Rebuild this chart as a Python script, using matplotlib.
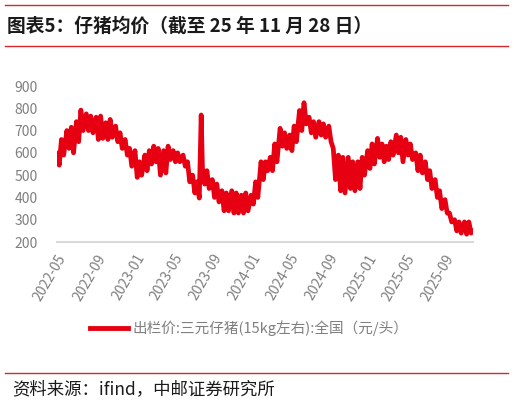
import numpy as np
import pandas as pd
import matplotlib
matplotlib.use("Agg")
import matplotlib.pyplot as plt
import matplotlib.dates as mdates
from matplotlib.lines import Line2D

plt.rcParams['font.family'] = ['Noto Sans CJK SC', 'DejaVu Sans']

# --- données (deux valeurs par demi-mois : haut / bas) ---
slot_dates = pd.date_range("2022-05-01", periods=86, freq="SMS")
price_hi = [600, 660, 700, 715, 740, 792, 775, 765, 760, 765,
            735, 750, 720, 690, 660, 620, 610, 560, 590, 610,
            630, 620, 610, 630, 610, 600, 590, 560, 500, 470,
            530, 520, 480, 460, 430, 420, 430, 420, 410, 420,
            410, 470, 560, 560, 580, 640, 710, 690, 680, 720,
            790, 825, 760, 740, 740, 730, 720, 620, 590, 580,
            580, 560, 560, 580, 610, 640, 665, 640, 630, 650,
            680, 670, 660, 640, 600, 590, 560, 520, 480, 430,
            390, 330, 300, 290, 290, 290]
price_lo = [545, 590, 620, 600, 650, 700, 700, 690, 660, 665,
            660, 670, 650, 620, 590, 540, 490, 500, 520, 550,
            560, 500, 510, 570, 560, 560, 540, 470, 420, 397,
            460, 440, 400, 380, 340, 340, 330, 330, 330, 340,
            370, 400, 480, 520, 520, 560, 630, 620, 610, 650,
            700, 730, 690, 670, 680, 670, 650, 480, 430, 420,
            440, 430, 440, 500, 530, 550, 580, 560, 570, 590,
            600, 560, 590, 570, 520, 510, 480, 440, 400, 350,
            330, 290, 250, 240, 235, 240]
extra_dates = ["2023-07-28", "2025-11-28"]
extra_vals = [770, 250]

series = pd.concat([
    pd.Series(price_hi, index=slot_dates),
    pd.Series(price_lo, index=slot_dates + pd.Timedelta(days=7)),
    pd.Series(extra_vals, index=pd.to_datetime(extra_dates)),
]).sort_index()

red = "#e60012"
grey = "#7f7f7f"

fig = plt.figure(figsize=(5.14, 4.08), dpi=100)

# titre + filets rouges
fig.add_artist(Line2D([5/514, 508/514], [1 - 5/408, 1 - 5/408], color="#d7262a", lw=1))
fig.add_artist(Line2D([5/514, 508/514], [1 - 46/408, 1 - 46/408], color="#d7262a", lw=1))
fig.text(7/514, 1 - 26/408, "图表5：仔猪均价（截至 25 年 11 月 28 日）",
         fontsize=13.5, fontweight="bold", va="center", ha="left", color="#1a1a1a")

ax = fig.add_axes([57/514, 166/408, 416/514, 156/408])
ax.plot(series.index, series.values, color=red, lw=3.4,
        solid_joinstyle="round", solid_capstyle="round")
ax.set_ylim(200, 900)
ax.set_xlim(series.index[0], series.index[-1])
ax.set_yticks(range(200, 901, 100))

for s in ["top", "right", "left"]:
    ax.spines[s].set_visible(False)
ax.spines["bottom"].set_color("#d9d9d9")
ax.spines["bottom"].set_linewidth(1.5)

ax.xaxis.set_major_locator(mdates.MonthLocator(bymonth=[1, 5, 9]))
ax.xaxis.set_major_formatter(mdates.DateFormatter("%Y-%m"))
ax.tick_params(axis="both", length=0, labelcolor=grey, labelsize=10)
ax.tick_params(axis="y", pad=14)
ax.tick_params(axis="x", pad=7)
for lab in ax.get_xticklabels():
    lab.set_rotation(60)
    lab.set_ha("right")
    lab.set_rotation_mode("anchor")

# légende
fig.add_artist(Line2D([90/514, 128/514], [1 - 328/408, 1 - 328/408], color=red, lw=3.5))
fig.text(132/514, 1 - 328/408, "出栏价:三元仔猪(15kg左右):全国（元/头）",
         fontsize=10.5, color=grey, va="center", ha="left")

# source
fig.add_artist(Line2D([5/514, 508/514], [1 - 373/408, 1 - 373/408], color="#d7262a", lw=1))
fig.text(12/514, 1 - 389/408, "资料来源：ifind，中邮证券研究所",
         fontsize=12.5, color="#1a1a1a", va="center", ha="left")

fig.savefig("out.png", dpi=100)
